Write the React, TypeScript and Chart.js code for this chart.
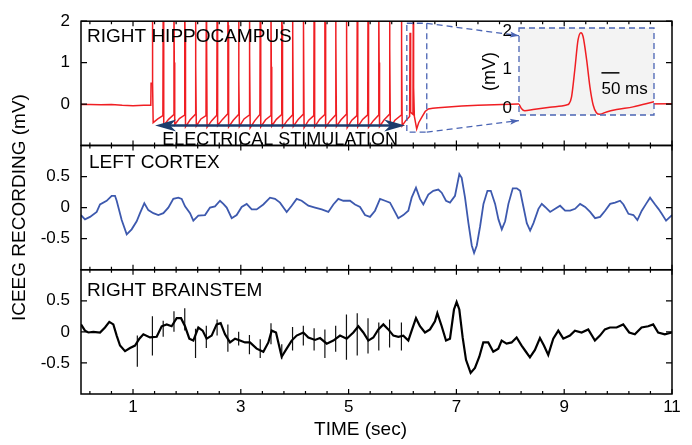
import React, { useEffect, useRef } from "react";
import { Chart, registerables } from "chart.js";

Chart.register(...registerables);

const FONT = "'Liberation Sans', Arial, Helvetica, sans-serif";

// ---------------- data ----------------
const xMajorTicks = [1, 3, 5, 7, 9, 11];
const xMinorTicks = [0.2, 0.6, 1.4, 1.8, 2.2, 2.6, 3.4, 3.8, 4.2, 4.6, 5.4, 5.8, 6.2, 6.6, 7.4, 7.8, 8.2, 8.6, 9.4, 9.8, 10.2, 10.6];
const hippoTicks = [0, 1, 2];
const cortexTicks = [-0.5, 0, 0.5];
const brainTicks = [-0.5, 0, 0.5];
const insetTicks = [0, 1, 2];
const panelNames = ["RIGHT HIPPOCAMPUS", "LEFT CORTEX", "RIGHT BRAINSTEM"];
const stimLabel = "ELECTRICAL STIMULATION";
const xTitle = "TIME (sec)";
const yTitle = "ICEEG RECORDING (mV)";
const insetYTitle = "(mV)";
const scaleBarMs = 50;

const hippoTime = [
  0.035, 0.2, 0.4, 0.6, 0.8, 1.0, 1.2, 1.33, 1.335, 1.355,
  1.36, 1.366, 1.374, 1.46, 1.554,
  1.56, 1.566, 1.574, 1.66, 1.754,
  1.76, 1.766, 1.774, 1.86, 1.954,
  1.96, 1.966, 1.974, 2.06, 2.154,
  2.16, 2.166, 2.174, 2.26, 2.354,
  2.36, 2.366, 2.374, 2.46, 2.554,
  2.56, 2.566, 2.574, 2.66, 2.754,
  2.76, 2.766, 2.774, 2.86, 2.954,
  2.96, 2.966, 2.974, 3.06, 3.154,
  3.16, 3.166, 3.174, 3.26, 3.354,
  3.36, 3.366, 3.374, 3.46, 3.554,
  3.56, 3.566, 3.574, 3.66, 3.754,
  3.76, 3.766, 3.774, 3.86, 3.954,
  3.96, 3.966, 3.974, 4.06, 4.154,
  4.16, 4.166, 4.174, 4.26, 4.354,
  4.36, 4.366, 4.374, 4.46, 4.554,
  4.56, 4.566, 4.574, 4.66, 4.754,
  4.76, 4.766, 4.774, 4.86, 4.954,
  4.96, 4.966, 4.974, 5.06, 5.154,
  5.16, 5.166, 5.174, 5.26, 5.354,
  5.36, 5.366, 5.374, 5.46, 5.554,
  5.56, 5.566, 5.574, 5.66, 5.754,
  5.76, 5.766, 5.774, 5.86, 5.974,
  5.98, 5.986, 5.994, 6.06, 6.132,
  6.14, 6.146, 6.156, 6.194,
  6.2, 6.206, 6.22, 6.263, 6.3, 6.356, 6.42, 6.48, 6.56, 6.66, 6.85, 7.1, 7.4, 7.7, 8.14, 8.6, 9.2, 9.8, 10.4, 11,
];
const hippoValue = [
  -0.01, -0.01, -0.02, -0.01, -0.03, -0.04, -0.03, -0.03, 0.5, 0.5,
  2.4, 0.5, -0.45, -0.36, -0.28,
  2.4, 1.45, -0.52, -0.37, -0.26,
  2.4, 1.0, -0.5, -0.35, -0.27,
  2.4, 1.6, -0.55, -0.38, -0.25,
  2.4, 0.95, -0.53, -0.36, -0.28,
  2.4, 1.45, -0.56, -0.4, -0.27,
  2.4, 0.8, -0.52, -0.37, -0.24,
  2.4, 1.9, -0.55, -0.39, -0.26,
  2.4, 0.6, -0.54, -0.36, -0.27,
  2.4, 1.2, -0.57, -0.4, -0.25,
  2.4, 1.95, -0.55, -0.38, -0.28,
  2.4, 0.9, -0.53, -0.37, -0.26,
  2.4, 1.9, -0.56, -0.4, -0.27,
  2.4, 1.75, -0.54, -0.38, -0.25,
  2.4, 1.9, -0.57, -0.39, -0.28,
  2.4, 1.8, -0.55, -0.37, -0.26,
  2.4, 1.95, -0.56, -0.4, -0.27,
  2.4, 1.6, -0.54, -0.38, -0.25,
  2.4, 1.35, -0.57, -0.39, -0.28,
  2.4, 0.95, -0.55, -0.37, -0.26,
  2.4, 0.8, -0.56, -0.4, -0.27,
  2.4, 1.0, -0.54, -0.38, -0.25,
  2.4, 1.35, -0.57, -0.39, -0.27,
  2.4, 1.5, -0.52, -0.4, -0.3,
  1.72, 0.3, -0.2, -0.25,
  2.3, 0.4, -0.3, -0.6, -0.45, -0.32, -0.18, -0.12, -0.1, -0.09, -0.07, -0.05, -0.03, -0.02, 0.0, 0.01, 0.0, 0.01, 0.0, 0.01,
];

const cortexTime = [
  0.035, 0.109, 0.202, 0.326, 0.388, 0.511, 0.604, 0.666, 0.697, 0.79,
  0.883, 0.975, 1.068, 1.13, 1.21, 1.284, 1.377, 1.47, 1.563, 1.655,
  1.748, 1.841, 1.903, 1.965, 2.058, 2.119, 2.212, 2.336, 2.429, 2.521,
  2.614, 2.676, 2.738, 2.831, 2.923, 3.016, 3.109, 3.202, 3.294, 3.418,
  3.542, 3.634, 3.727, 3.851, 3.944, 4.036, 4.129, 4.253, 4.377, 4.5,
  4.624, 4.717, 4.809, 4.902, 5.026, 5.119, 5.212, 5.304, 5.397, 5.49,
  5.583, 5.675, 5.768, 5.83, 5.922, 6.015, 6.108, 6.17, 6.25, 6.324,
  6.386, 6.479, 6.571, 6.664, 6.727, 6.807, 6.881, 6.974, 7.054, 7.098,
  7.16, 7.223, 7.285, 7.328, 7.378, 7.44, 7.502, 7.576, 7.638, 7.718,
  7.78, 7.842, 7.904, 7.965, 8.046, 8.12, 8.182, 8.244, 8.306, 8.368,
  8.43, 8.522, 8.584, 8.646, 8.739, 8.832, 8.924, 9.017, 9.11, 9.202,
  9.295, 9.388, 9.481, 9.573, 9.666, 9.759, 9.852, 9.944, 10.037, 10.099,
  10.192, 10.284, 10.358, 10.439, 10.519, 10.593, 10.686, 10.748, 10.81, 10.89,
  11.0,
];
const cortexValue = [
  -0.12, -0.19, -0.15, -0.07, 0.05, 0.11, 0.19, 0.19, 0.11, -0.2,
  -0.43, -0.35, -0.22, -0.09, 0.07, -0.04, -0.09, -0.12, -0.09, 0.0,
  0.14, 0.16, 0.14, 0.02, -0.09, -0.21, -0.13, -0.12, 0.0, 0.02,
  0.11, 0.06, 0.0, -0.17, -0.12, 0.01, 0.06, -0.03, -0.03, 0.05,
  0.16, 0.14, 0.08, -0.07, 0.03, 0.14, 0.11, 0.03, 0.0, -0.03,
  -0.07, 0.05, 0.14, 0.11, 0.11, 0.05, 0.01, -0.12, -0.15, -0.05,
  0.14, 0.11, 0.08, -0.02, -0.17, -0.12, -0.05, 0.16, 0.32, 0.14,
  0.05, 0.21, 0.27, 0.29, 0.24, 0.11, 0.08, 0.19, 0.54, 0.48,
  0.16, -0.25, -0.61, -0.73, -0.61, -0.3, 0.06, 0.27, 0.27, 0.06,
  -0.19, -0.35, -0.22, 0.06, 0.31, 0.31, 0.27, 0.01, -0.25, -0.37,
  -0.25, -0.02, 0.06, 0.01, -0.07, -0.02, 0.03, -0.05, -0.05, -0.02,
  0.06, 0.01, -0.07, -0.17, -0.15, -0.05, 0.06, 0.08, 0.11, 0.05,
  -0.1, -0.12, -0.2, -0.05, 0.06, 0.16, 0.05, -0.02, -0.1, -0.21,
  -0.12,
];

const brainTime = [
  0.035, 0.109, 0.171, 0.264, 0.388, 0.48, 0.56, 0.635, 0.697, 0.759,
  0.852, 0.945, 1.037, 1.118, 1.192, 1.315, 1.439, 1.532, 1.625, 1.717,
  1.81, 1.891, 1.965, 2.045, 2.119, 2.212, 2.292, 2.366, 2.459, 2.552,
  2.626, 2.707, 2.8, 2.893, 2.985, 3.078, 3.17, 3.294, 3.418, 3.511,
  3.573, 3.653, 3.758, 3.851, 3.944, 4.036, 4.16, 4.253, 4.377, 4.47,
  4.594, 4.717, 4.841, 4.964, 5.088, 5.181, 5.273, 5.366, 5.459, 5.552,
  5.645, 5.737, 5.83, 5.923, 6.015, 6.108, 6.17, 6.25, 6.324, 6.417,
  6.51, 6.602, 6.646, 6.727, 6.807, 6.881, 6.955, 7.004, 7.054, 7.116,
  7.178, 7.264, 7.344, 7.425, 7.499, 7.591, 7.684, 7.777, 7.839, 7.931,
  8.024, 8.117, 8.21, 8.29, 8.364, 8.457, 8.55, 8.624, 8.704, 8.797,
  8.89, 8.983, 9.106, 9.199, 9.323, 9.446, 9.57, 9.663, 9.755, 9.848,
  9.972, 10.095, 10.206, 10.311, 10.435, 10.558, 10.651, 10.743, 10.867, 11.0,
];
const brainValue = [
  0.12, 0.02, -0.01, 0.0, -0.01, 0.07, 0.16, 0.12, -0.06, -0.22,
  -0.31, -0.26, -0.22, -0.11, -0.04, -0.09, -0.08, 0.09, 0.12, 0.09,
  0.22, 0.22, 0.09, -0.11, -0.14, 0.07, 0.02, -0.11, -0.06, 0.12,
  0.14, -0.04, -0.17, -0.11, -0.14, -0.17, -0.17, -0.27, -0.32, -0.17,
  0.02, -0.01, -0.4, -0.27, -0.14, -0.06, -0.01, -0.09, -0.13, -0.1,
  -0.19, -0.14, -0.06, -0.11, -0.01, 0.09, -0.01, -0.14, -0.09, 0.04,
  0.12, 0.04, -0.06, -0.08, -0.06, -0.14, 0.02, 0.22, 0.09, -0.01,
  0.04, 0.17, 0.3, 0.09, -0.14, -0.11, 0.36, 0.48, 0.36, -0.09,
  -0.45, -0.66, -0.58, -0.4, -0.17, -0.17, -0.32, -0.27, -0.14, -0.19,
  -0.17, -0.09, -0.22, -0.32, -0.41, -0.29, -0.1, -0.22, -0.37, -0.11,
  0.02, -0.11, -0.06, 0.02, -0.01, 0.04, -0.14, -0.06, 0.04, 0.07,
  0.07, 0.12, -0.01, -0.04, 0.07, 0.09, 0.12, -0.01, -0.04, -0.01,
];

// stimulation artefacts seen on the brainstem channel
const artifactTime = [1.08, 1.36, 1.56, 1.76, 1.96, 2.16, 2.36, 2.56, 2.76, 2.96, 3.16, 3.36, 3.56, 3.76, 3.96, 4.16, 4.36, 4.56, 4.76, 4.96, 5.16, 5.36, 5.56, 5.76, 5.98];
const artifactHigh = [-0.06, 0.25, 0.18, 0.33, 0.38, 0.05, 0.1, 0.2, 0.12, 0.0, -0.05, -0.12, 0.14, -0.2, 0.08, 0.1, 0.06, 0.04, 0.1, 0.28, 0.3, 0.22, 0.15, 0.2, 0.15];
const artifactLow = [-0.56, -0.38, -0.08, 0.0, 0.02, -0.42, -0.26, -0.06, -0.32, -0.22, -0.36, -0.42, -0.2, -0.44, -0.3, -0.22, -0.3, -0.42, -0.32, -0.45, -0.38, -0.35, -0.3, -0.25, -0.3];

// inset: single spike (time in ms)
const insetTime = [0, 6.7, 15.9, 39, 85.5, 132, 139, 146, 155, 164, 172, 178, 188, 197, 206, 215, 225, 243, 271, 317, 375];
const insetValue = [0.11, 0.0, -0.06, -0.03, 0.03, 0.09, 0.12, 0.3, 1.0, 1.77, 1.96, 1.86, 1.25, 0.56, 0.09, -0.11, -0.15, -0.09, -0.03, 0.04, 0.17];

// annotation anchors (data units)
const stimArrow = { from: 1.41, to: 6.05, level: -0.52 };
const zoomBox = { t0: 6.08, t1: 6.45, low: -0.68, high: 1.95 };
const insetCorner = { t: 8.16, top: 1.65, bottom: -0.4 };
const scaleBar = { start: 229, level: 0.92, textLevel: 0.37 };

// ---------------- layout / style ----------------
const labelInset = [6, 8, 6];
const labelBaseline = [21, 22.5, 26];
const RED = "#f01e23";
const BLUE = "#3d59ae";
const DASH_BLUE = "#4a64b4";
const NAVY = "#1c3c6c";

const pts = (t: number[], v: number[]) => t.map((x, i) => ({ x, y: v[i] }));

function artifactPoints() {
  const out: any[] = [];
  artifactTime.forEach((t, i) => {
    out.push({ x: t, y: artifactHigh[i] }, { x: t, y: artifactLow[i] }, { x: t, y: null });
  });
  return out;
}

function arrowHead(ctx: CanvasRenderingContext2D, tx: number, ty: number, dir: number, len: number, half: number, notch: number) {
  const c = Math.cos(dir), s = Math.sin(dir);
  const bx = tx - c * len, by = ty - s * len;
  ctx.beginPath();
  ctx.moveTo(tx, ty);
  ctx.lineTo(bx - s * half, by + c * half);
  ctx.lineTo(tx - c * (len - notch), ty - s * (len - notch));
  ctx.lineTo(bx + s * half, by - c * half);
  ctx.closePath();
  ctx.fill();
}

function yAxis(min: number, max: number, ticks: number[]) {
  return {
    type: "linear",
    position: "left",
    stack: "eeg",
    stackWeight: 1,
    min,
    max,
    afterBuildTicks: (axis: any) => {
      axis.ticks = ticks.map((v) => ({ value: v }));
    },
    afterFit: (axis: any) => {
      axis.width = 81;
    },
    grid: { display: false, drawTicks: false },
    border: { display: false },
    ticks: {
      font: { family: FONT, size: 17 },
      color: "#000",
      padding: 11,
      callback: (v: any) => String(v),
    },
  };
}

const mainDecor = {
  id: "mainDecor",
  afterDatasetsDraw(chart: any) {
    const { ctx, chartArea: ca, scales } = chart;
    const x = scales.x;
    ctx.save();
    const panels = [
      { s: scales.yTop, ticks: hippoTicks },
      { s: scales.yMid, ticks: cortexTicks },
      { s: scales.yBot, ticks: brainTicks },
    ];
    panels.forEach((p: any, i: number) => {
      const top = p.s.top;
      const bottom = p.s.bottom;
      ctx.strokeStyle = "#000";
      ctx.lineWidth = 1.2;
      ctx.beginPath();
      xMajorTicks.forEach((v) => {
        const px = x.getPixelForValue(v);
        ctx.moveTo(px, top);
        ctx.lineTo(px, top + 5);
        ctx.moveTo(px, bottom);
        ctx.lineTo(px, bottom - 5);
      });
      xMinorTicks.forEach((v) => {
        const px = x.getPixelForValue(v);
        ctx.moveTo(px, top);
        ctx.lineTo(px, top + 3);
        ctx.moveTo(px, bottom);
        ctx.lineTo(px, bottom - 3);
      });
      p.ticks.forEach((v: number) => {
        const py = p.s.getPixelForValue(v);
        ctx.moveTo(ca.left, py);
        ctx.lineTo(ca.left + 6, py);
        ctx.moveTo(ca.right, py);
        ctx.lineTo(ca.right - 6, py);
      });
      ctx.stroke();
      ctx.lineWidth = 1.5;
      ctx.strokeRect(ca.left, top, ca.right - ca.left, bottom - top);
      ctx.fillStyle = "#000";
      ctx.font = `19px ${FONT}`;
      ctx.textAlign = "left";
      ctx.textBaseline = "alphabetic";
      ctx.fillText(panelNames[i], ca.left + labelInset[i], top + labelBaseline[i]);
    });

    // stimulation arrow
    const yT = scales.yTop;
    const ax0 = x.getPixelForValue(stimArrow.from);
    const ax1 = x.getPixelForValue(stimArrow.to);
    const ay = yT.getPixelForValue(stimArrow.level);
    ctx.strokeStyle = NAVY;
    ctx.fillStyle = NAVY;
    ctx.lineWidth = 2.5;
    ctx.beginPath();
    ctx.moveTo(ax0 + 12, ay);
    ctx.lineTo(ax1 - 12, ay);
    ctx.stroke();
    arrowHead(ctx, ax0, ay, Math.PI, 21, 6, 6);
    arrowHead(ctx, ax1, ay, 0, 21, 6, 6);
    ctx.fillStyle = "#000";
    ctx.font = `18px ${FONT}`;
    ctx.textAlign = "center";
    ctx.textBaseline = "alphabetic";
    ctx.fillText(stimLabel, (ax0 + ax1) / 2, yT.bottom);

    // zoom box and connectors
    const zx0 = x.getPixelForValue(zoomBox.t0);
    const zx1 = x.getPixelForValue(zoomBox.t1);
    const zy0 = yT.getPixelForValue(zoomBox.high);
    const zy1 = yT.getPixelForValue(zoomBox.low);
    const cx = x.getPixelForValue(insetCorner.t);
    const cy0 = yT.getPixelForValue(insetCorner.top);
    const cy1 = yT.getPixelForValue(insetCorner.bottom);
    ctx.strokeStyle = DASH_BLUE;
    ctx.lineWidth = 1.3;
    ctx.setLineDash([6, 4]);
    ctx.strokeRect(zx0, zy0, zx1 - zx0, zy1 - zy0);
    ctx.beginPath();
    ctx.moveTo(zx1, zy0);
    ctx.lineTo(cx, cy0);
    ctx.moveTo(zx1, zy1);
    ctx.lineTo(cx, cy1);
    ctx.stroke();
    ctx.setLineDash([]);
    ctx.fillStyle = DASH_BLUE;
    arrowHead(ctx, cx, cy0, Math.atan2(cy0 - zy0, cx - zx1), 9, 3, 2);
    arrowHead(ctx, cx, cy1, Math.atan2(cy1 - zy1, cx - zx1), 9, 3, 2);

    // axis titles
    ctx.fillStyle = "#000";
    ctx.font = `19px ${FONT}`;
    ctx.textAlign = "center";
    ctx.textBaseline = "middle";
    ctx.fillText(xTitle, ca.left + (ca.right - ca.left) * 0.473, chart.height - 15);
    ctx.save();
    ctx.translate(20, (ca.top + ca.bottom) / 2);
    ctx.rotate(-Math.PI / 2);
    ctx.fillText(yTitle, 0, 0);
    ctx.restore();
    ctx.restore();
  },
};

const insetDecor = {
  id: "insetDecor",
  beforeDatasetsDraw(chart: any) {
    const { ctx, chartArea: ca } = chart;
    ctx.save();
    ctx.fillStyle = "#f3f3f3";
    ctx.fillRect(ca.left, ca.top, ca.right - ca.left, ca.bottom - ca.top);
    ctx.restore();
  },
  afterDatasetsDraw(chart: any) {
    const { ctx, chartArea: ca, scales } = chart;
    ctx.save();
    ctx.strokeStyle = DASH_BLUE;
    ctx.lineWidth = 1.3;
    ctx.setLineDash([6, 4]);
    ctx.strokeRect(ca.left, ca.top, ca.right - ca.left, ca.bottom - ca.top);
    ctx.setLineDash([]);
    const sx0 = scales.x.getPixelForValue(scaleBar.start);
    const sx1 = scales.x.getPixelForValue(scaleBar.start + scaleBarMs);
    const sy = scales.y.getPixelForValue(scaleBar.level);
    ctx.strokeStyle = "#000";
    ctx.lineWidth = 1.5;
    ctx.beginPath();
    ctx.moveTo(sx0, sy);
    ctx.lineTo(sx1, sy);
    ctx.stroke();
    ctx.fillStyle = "#000";
    ctx.font = `17px ${FONT}`;
    ctx.textAlign = "left";
    ctx.textBaseline = "alphabetic";
    ctx.fillText(`${scaleBarMs} ms`, sx0, scales.y.getPixelForValue(scaleBar.textLevel));
    ctx.font = `18px ${FONT}`;
    ctx.textAlign = "center";
    ctx.textBaseline = "middle";
    ctx.translate(ca.left - 29, (ca.top + ca.bottom) / 2);
    ctx.rotate(-Math.PI / 2);
    ctx.fillText(insetYTitle, 0, 0);
    ctx.restore();
  },
};

export default function App() {
  const mainRef = useRef<HTMLCanvasElement>(null);
  const insetRef = useRef<HTMLCanvasElement>(null);

  useEffect(() => {
    const main = new Chart(mainRef.current as HTMLCanvasElement, {
      type: "line",
      data: {
        datasets: [
          { data: pts(hippoTime, hippoValue), yAxisID: "yTop", borderColor: RED, borderWidth: 1.5, pointRadius: 0, tension: 0 },
          { data: pts(cortexTime, cortexValue), yAxisID: "yMid", borderColor: BLUE, borderWidth: 1.8, pointRadius: 0, tension: 0 },
          { data: pts(brainTime, brainValue), yAxisID: "yBot", borderColor: "#000", borderWidth: 2.2, pointRadius: 0, tension: 0 },
          { data: artifactPoints(), yAxisID: "yBot", borderColor: "#111", borderWidth: 1.2, pointRadius: 0, tension: 0, spanGaps: false },
        ],
      } as any,
      options: {
        animation: false,
        responsive: false,
        events: [],
        layout: { padding: { top: 13, right: 20, left: 0, bottom: 0 } },
        plugins: { legend: { display: false }, tooltip: { enabled: false } },
        scales: {
          x: {
            type: "linear",
            position: "bottom",
            min: 0.035,
            max: 11,
            afterBuildTicks: (axis: any) => {
              axis.ticks = xMajorTicks.map((v) => ({ value: v }));
            },
            afterFit: (axis: any) => {
              axis.height = 51;
            },
            grid: { display: false, drawTicks: false },
            border: { display: false },
            ticks: {
              font: { family: FONT, size: 17 },
              color: "#000",
              padding: 3,
              maxRotation: 0,
              autoSkip: false,
              callback: (v: any) => String(v),
            },
          },
          yBot: yAxis(-1, 1, brainTicks),
          yMid: yAxis(-1, 1, cortexTicks),
          yTop: yAxis(-1, 2, hippoTicks),
        } as any,
      },
      plugins: [mainDecor],
    });

    const inset = new Chart(insetRef.current as HTMLCanvasElement, {
      type: "line",
      data: {
        datasets: [
          {
            data: pts(insetTime, insetValue),
            borderColor: RED,
            borderWidth: 1.5,
            pointRadius: 0,
            cubicInterpolationMode: "monotone",
          },
        ],
      } as any,
      options: {
        animation: false,
        responsive: false,
        events: [],
        layout: { padding: { left: 479, top: 28, right: 38, bottom: 330 } },
        plugins: { legend: { display: false }, tooltip: { enabled: false } },
        scales: {
          x: { type: "linear", min: 0, max: 375, display: false },
          y: {
            type: "linear",
            min: -0.17,
            max: 2.08,
            afterBuildTicks: (axis: any) => {
              axis.ticks = insetTicks.map((v) => ({ value: v }));
            },
            afterFit: (axis: any) => {
              axis.width = 40;
            },
            grid: { display: false, drawTicks: false },
            border: { display: false },
            ticks: { font: { family: FONT, size: 17 }, color: "#000", padding: 7, callback: (v: any) => String(v) },
          },
        } as any,
      },
      plugins: [insetDecor],
    });

    return () => {
      main.destroy();
      inset.destroy();
    };
  }, []);

  return (
    <div style={{ position: "fixed", left: 0, top: 0, width: 692, height: 445, background: "#fff" }}>
      <canvas ref={mainRef} width={692} height={445} style={{ position: "absolute", left: 0, top: 0 }} />
      <canvas ref={insetRef} width={692} height={445} style={{ position: "absolute", left: 0, top: 0 }} />
    </div>
  );
}
